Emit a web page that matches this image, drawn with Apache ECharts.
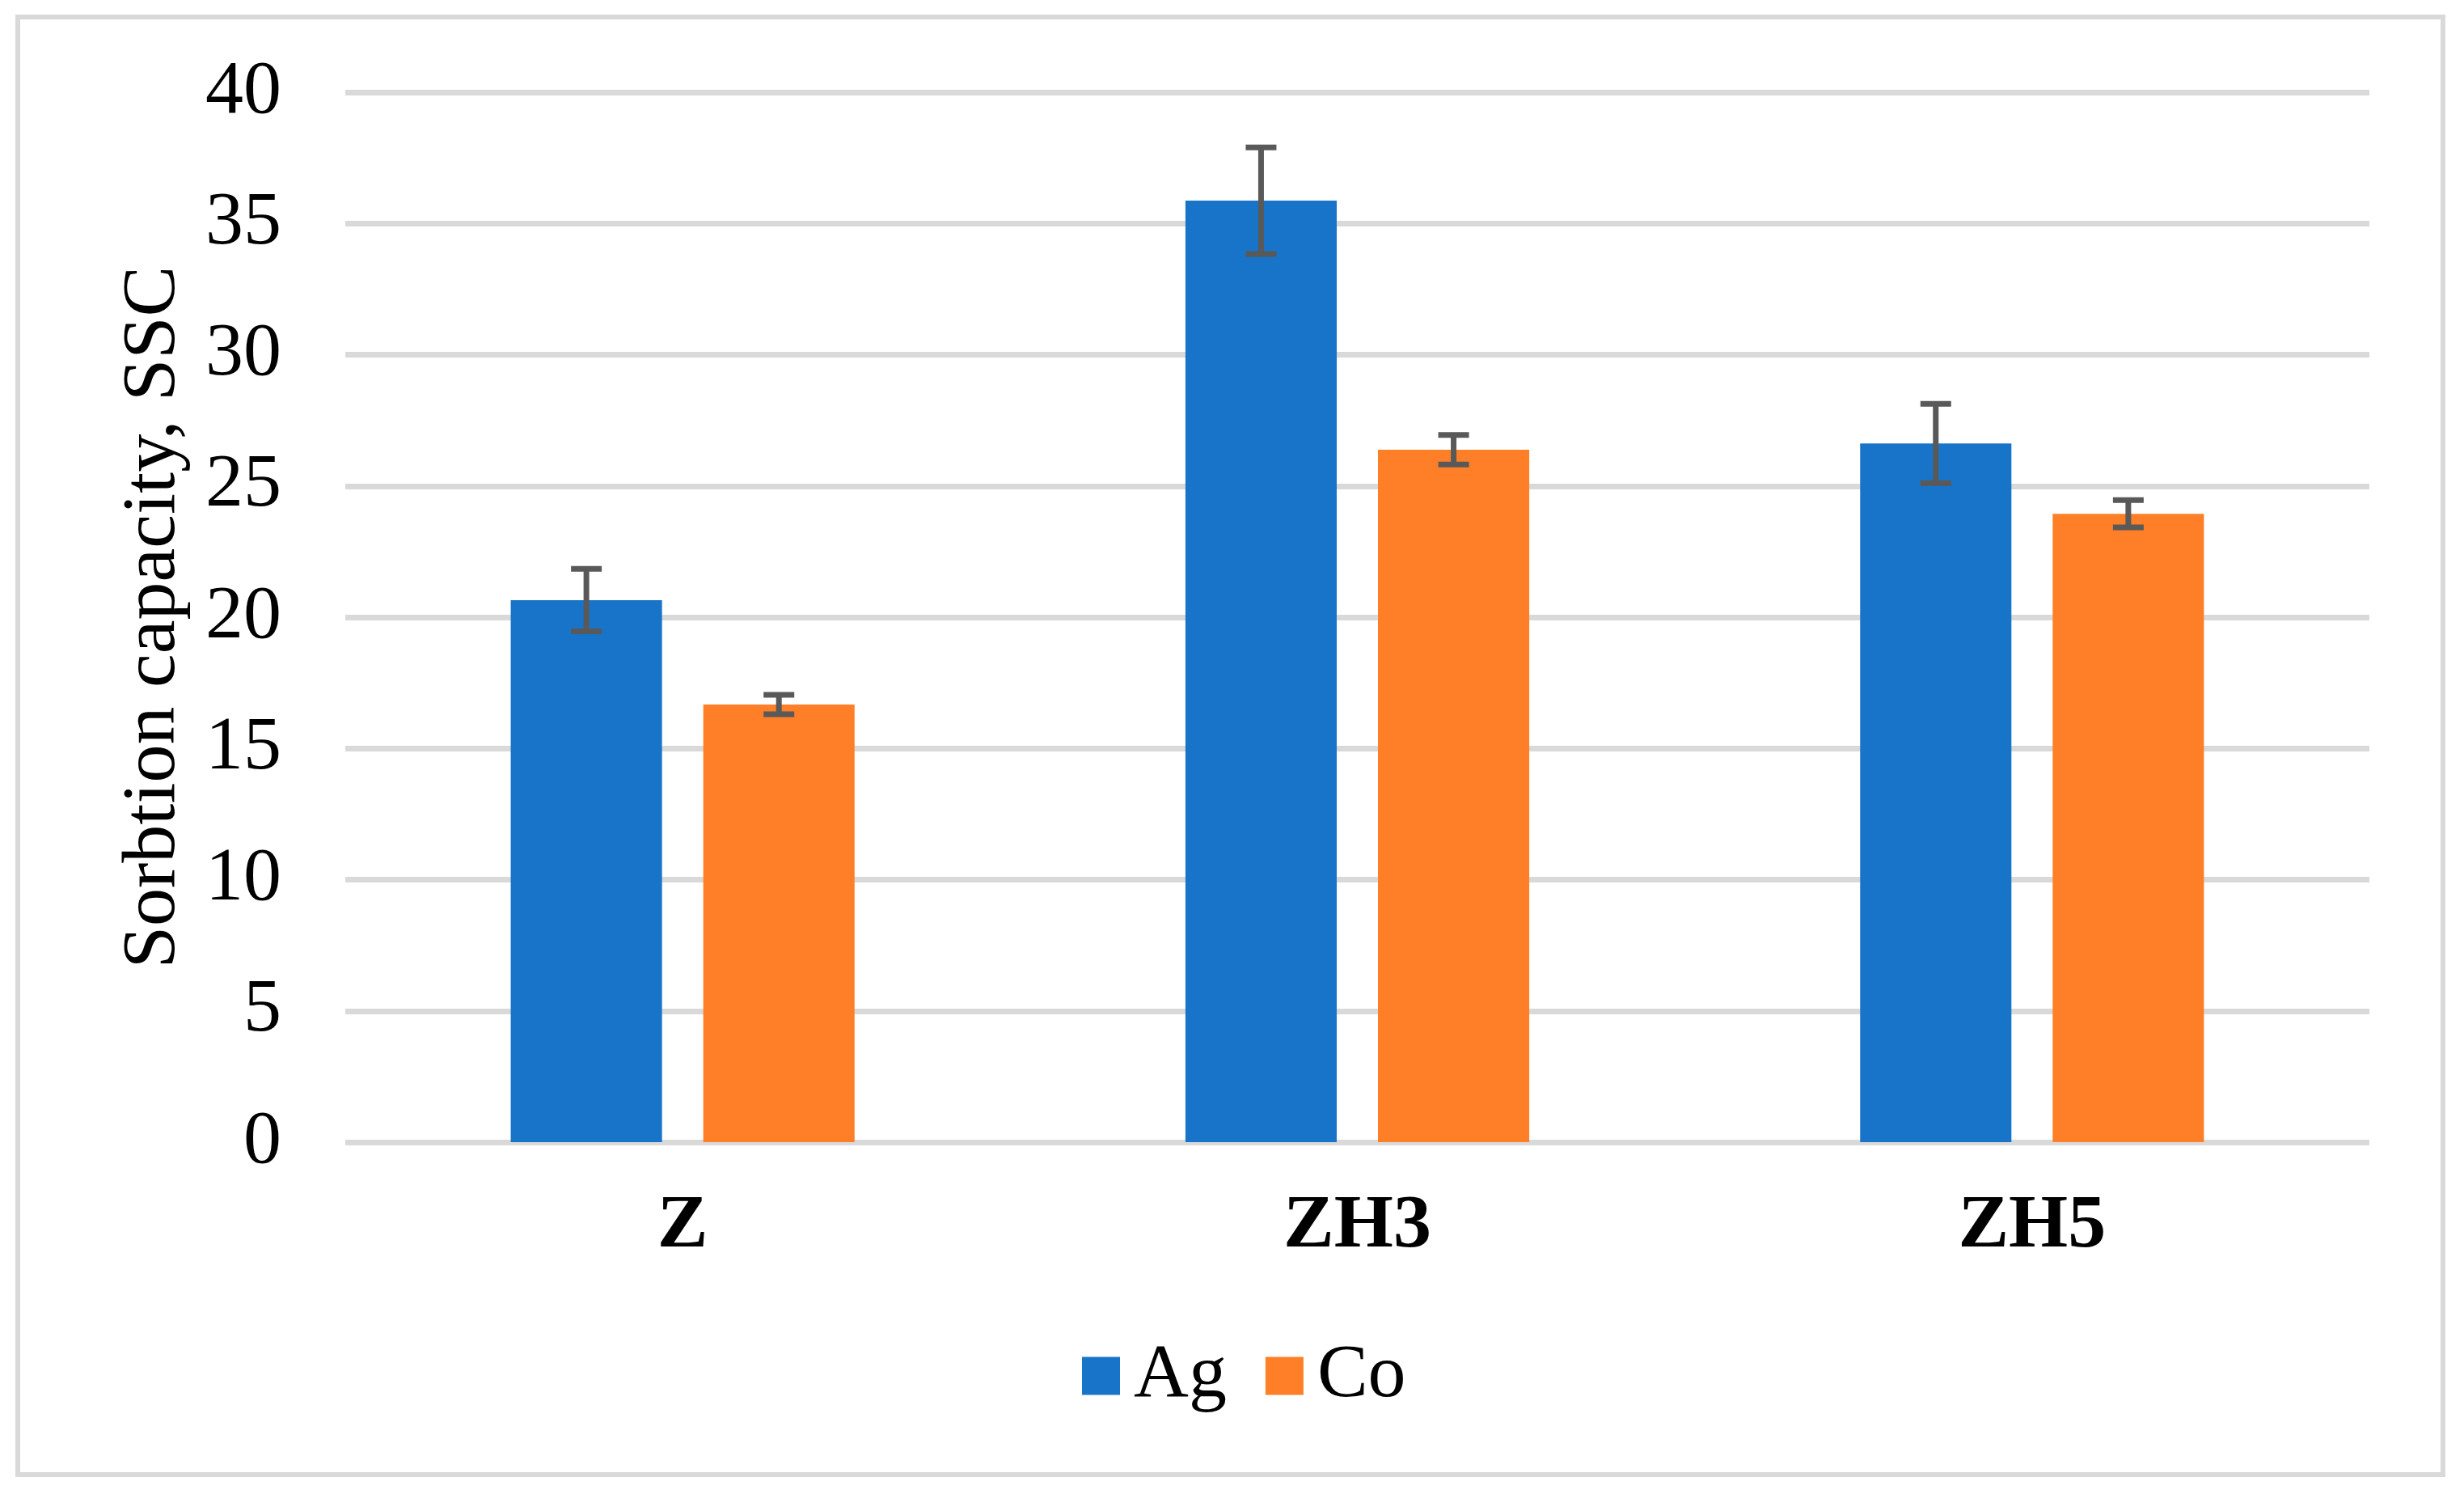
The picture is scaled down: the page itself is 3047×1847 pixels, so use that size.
<!DOCTYPE html>
<html>
<head>
<meta charset="utf-8">
<script src="https://cdn.jsdelivr.net/npm/echarts@6/dist/echarts.min.js"></script>
<style>
html,body{margin:0;padding:0;background:#fff;}
#chart{width:3047px;height:1847px;}
</style>
</head>
<body>
<div id="chart"></div>
<script>
var categories = ['Z', 'ZH3', 'ZH5'];
var agValues = [20.65, 35.87, 26.62];
var coValues = [16.67, 26.38, 23.94];
var agErrors = [1.19, 2.03, 1.51];
var coErrors = [0.37, 0.56, 0.52];
var yTicks = { min: 0, max: 40, interval: 5 };

var FONT = 'Liberation Serif, Times New Roman, serif';
var BAR_W_FRAC = 187 / 834;
var GAP_FRAC = 51 / 187;

function errData(vals, errs) {
  return vals.map(function (v, i) { return [i, v - errs[i], v + errs[i]]; });
}

function makeErrRender(side) {
  return function (params, api) {
    var i = api.value(0);
    var lo = api.coord([i, api.value(1)]);
    var hi = api.coord([i, api.value(2)]);
    var catW = api.size([1, 0])[0];
    var bw = catW * BAR_W_FRAC;
    var gap = bw * GAP_FRAC;
    var x = lo[0] + side * (bw + gap) / 2;
    var capHalf = 19;
    var style = { stroke: '#595959', lineWidth: 7 };
    return {
      type: 'group',
      children: [
        { type: 'line', shape: { x1: x, y1: hi[1], x2: x, y2: lo[1] }, style: style },
        { type: 'line', shape: { x1: x - capHalf, y1: hi[1], x2: x + capHalf, y2: hi[1] }, style: style },
        { type: 'line', shape: { x1: x - capHalf, y1: lo[1], x2: x + capHalf, y2: lo[1] }, style: style }
      ]
    };
  };
}

var chart = echarts.init(document.getElementById('chart'));
chart.setOption({
  animation: false,
  backgroundColor: '#ffffff',
  graphic: [{
    type: 'rect',
    shape: { x: 22, y: 21, width: 2999, height: 1802 },
    style: { fill: 'none', stroke: '#d9d9d9', lineWidth: 6 },
    silent: true,
    z: -1
  }],
  grid: { left: 427, right: 117, top: 114, height: 1298 },
  legend: {
    data: ['Ag', 'Co'],
    left: 1333,
    top: 1649,
    icon: 'rect',
    itemWidth: 47,
    itemHeight: 47,
    itemGap: 48,
    textStyle: { fontFamily: FONT, fontSize: 94, color: '#000', padding: [0, 0, 0, 12] }
  },
  xAxis: {
    type: 'category',
    data: categories,
    axisLine: { show: false },
    axisTick: { show: false },
    axisLabel: { fontFamily: FONT, fontSize: 94, fontWeight: 'bold', color: '#000', margin: 58 }
  },
  yAxis: {
    type: 'value',
    min: yTicks.min,
    max: yTicks.max,
    interval: yTicks.interval,
    name: 'Sorbtion capacity, SSC',
    nameLocation: 'middle',
    nameGap: 190,
    nameTextStyle: { fontFamily: FONT, fontSize: 94, color: '#000' },
    axisLine: { show: false },
    axisTick: { show: false },
    axisLabel: { fontFamily: FONT, fontSize: 94, color: '#000', margin: 79 },
    splitLine: { lineStyle: { color: '#d9d9d9', width: 7 } }
  },
  series: [
    {
      name: 'Ag', type: 'bar', data: agValues,
      barWidth: (BAR_W_FRAC * 100) + '%', barGap: (GAP_FRAC * 100) + '%',
      itemStyle: { color: '#1874c9' }
    },
    {
      name: 'Co', type: 'bar', data: coValues,
      barWidth: (BAR_W_FRAC * 100) + '%', barGap: (GAP_FRAC * 100) + '%',
      itemStyle: { color: '#fe7f27' }
    },
    {
      name: 'Ag error', type: 'custom', data: errData(agValues, agErrors),
      renderItem: makeErrRender(-1), encode: { x: 0, y: [1, 2] }, z: 10, silent: true
    },
    {
      name: 'Co error', type: 'custom', data: errData(coValues, coErrors),
      renderItem: makeErrRender(1), encode: { x: 0, y: [1, 2] }, z: 10, silent: true
    }
  ]
});
</script>
</body>
</html>
